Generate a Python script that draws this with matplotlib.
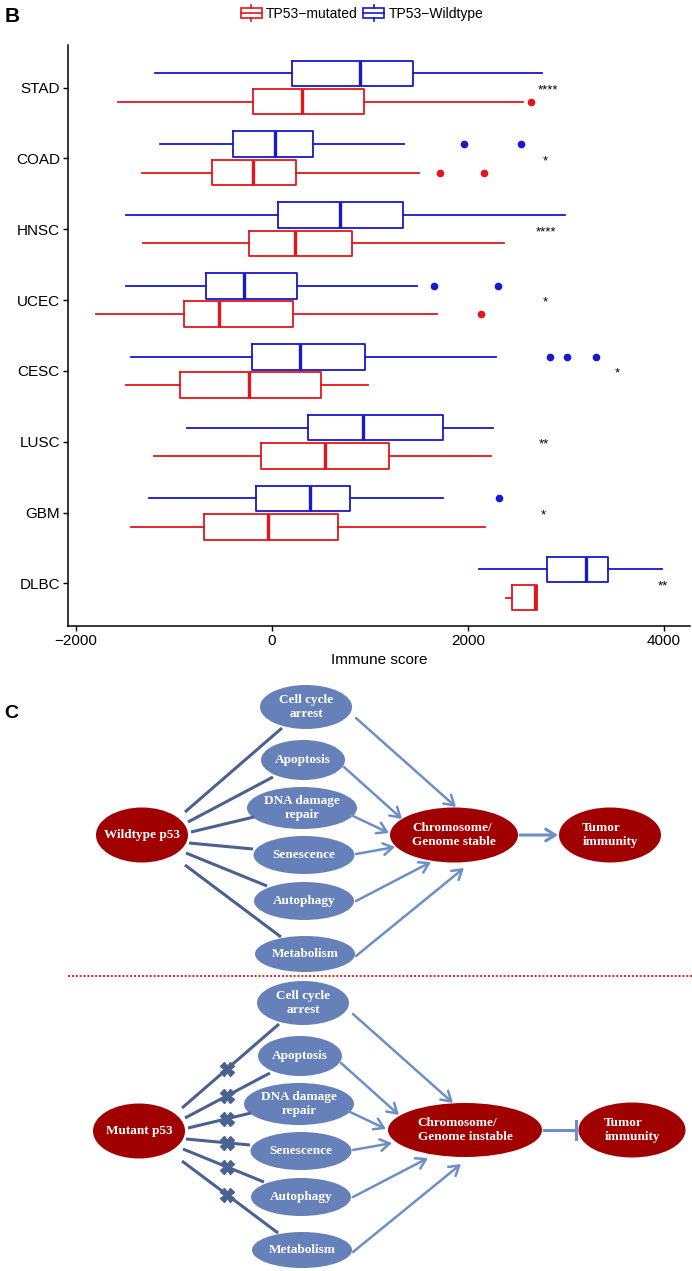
import matplotlib
matplotlib.use('Agg')
import matplotlib.pyplot as plt
from matplotlib.patches import Ellipse, Rectangle, FancyArrowPatch
from matplotlib.lines import Line2D
from matplotlib.legend_handler import HandlerBase

plt.rcParams['font.family'] = ['Liberation Sans', 'DejaVu Sans']

W, H = 692, 1271

# ---- panel B data (immune score box stats) ----
cancer_types = ['STAD', 'COAD', 'HNSC', 'UCEC', 'CESC', 'LUSC', 'GBM', 'DLBC']

wt_whislo = [-1192, -1147, -1494, -1494, -1440, -867, -1251, 2109]
wt_q1 = [199, -397, 59, -677, -208, 366, -163, 2804]
wt_med = [894, 32, 695, -284, 284, 930, 388, 3201]
wt_q3 = [1440, 415, 1332, 253, 944, 1747, 799, 3431]
wt_whishi = [2750, 1350, 2993, 1476, 2289, 2253, 1743, 3978]
wt_outliers = [[], [1960, 2537], [], [1657, 2307], [2835, 3012, 3305], [], [2321], []]

mut_whislo = [-1576, -1327, -1314, -1792, -1485, -1205, -1440, 2384]
mut_q1 = [-199, -610, -230, -903, -944, -108, -695, 2447]
mut_med = [302, -190, 230, -542, -230, 542, -45, 2682]
mut_q3 = [939, 244, 813, 212, 501, 1192, 673, 2704]
mut_whishi = [2565, 1503, 2366, 1684, 984, 2235, 2176, 2704]
mut_outliers = [[2646], [1716, 2167], [], [2131], [], [], [], []]

sig_labels = ['****', '*', '****', '*', '*', '**', '*', '**']
sig_x = [2813, 2790, 2799, 2790, 3526, 2777, 2768, 3987]

# ---- panel C labels ----
process_labels = ['Cell cycle\narrest', 'Apoptosis', 'DNA damage\nrepair',
                  'Senescence', 'Autophagy', 'Metabolism']

RED = '#E2161B'
BLUE = '#1818CC'
DARK_RED = '#A00000'
NODE_BLUE = '#6681B9'
LINE_DARK = '#4A6290'
ARROW_BLUE = '#6D8FC8'


class BoxKeyHandler(HandlerBase):
    def create_artists(self, legend, orig_handle, xdescent, ydescent,
                       width, height, fontsize, trans):
        c = orig_handle.get_color()
        x0, y0 = -xdescent, -ydescent
        cx = x0 + width / 2
        box = Rectangle((x0, y0 + 0.2 * height), width, 0.6 * height,
                        fc='white', ec=c, lw=1.2, transform=trans)
        med = Line2D([x0, x0 + width], [y0 + 0.5 * height] * 2, color=c, lw=1.2, transform=trans)
        wlo = Line2D([cx, cx], [y0, y0 + 0.2 * height], color=c, lw=1.2, transform=trans)
        whi = Line2D([cx, cx], [y0 + 0.8 * height, y0 + height], color=c, lw=1.2, transform=trans)
        return [box, med, wlo, whi]


def make_stats(lo, q1, med, q3, hi, out):
    return [dict(whislo=a, q1=b, med=c, q3=d, whishi=e, fliers=f)
            for a, b, c, d, e, f in zip(lo, q1, med, q3, hi, out)]


def draw_boxes(ax, stats, positions, color):
    ax.bxp(stats, positions=positions, widths=0.36, orientation='horizontal',
           showcaps=False, manage_ticks=False,
           boxprops=dict(color=color, lw=1.3),
           whiskerprops=dict(color=color, lw=1.3),
           medianprops=dict(color=color, lw=2.4),
           flierprops=dict(marker='o', mfc=color, mec=color, ms=4.5))


def plot_panel_b(fig):
    ax = fig.add_axes([67.6 / W, 1 - 626 / H, (690 - 67.6) / W, (626 - 45) / H])
    n = len(cancer_types)
    draw_boxes(ax, make_stats(wt_whislo, wt_q1, wt_med, wt_q3, wt_whishi, wt_outliers),
               [i - 0.2 for i in range(n)], BLUE)
    draw_boxes(ax, make_stats(mut_whislo, mut_q1, mut_med, mut_q3, mut_whishi, mut_outliers),
               [i + 0.2 for i in range(n)], RED)
    for i, (s, x) in enumerate(zip(sig_labels, sig_x)):
        ax.text(x, i + 0.04, s, ha='center', va='center', fontsize=9.5)

    ax.set_yticks(range(n))
    ax.set_yticklabels(cancer_types, fontsize=11)
    ax.set_ylim(n - 0.4, -0.6)
    ax.set_xlim(-2086, 4265)
    ax.set_xticks([-2000, 0, 2000, 4000])
    ax.tick_params(labelsize=11, length=3.5, width=1, pad=2)
    ax.set_xlabel('Immune score', fontsize=11, labelpad=4)
    for side in ['top', 'right']:
        ax.spines[side].set_visible(False)
    for side in ['left', 'bottom']:
        ax.spines[side].set_linewidth(1.1)

    handles = [Line2D([], [], color=RED), Line2D([], [], color=BLUE)]
    fig.legend(handles, ['TP53\u2212mutated', 'TP53\u2212Wildtype'], loc='center',
               bbox_to_anchor=(362 / W, 1 - 13 / H), ncol=2, frameon=False, fontsize=10,
               handlelength=1.5, handleheight=1.45, handletextpad=0.3, columnspacing=0.4,
               handler_map={Line2D: BoxKeyHandler()})
    fig.text(12 / W, 1 - 17 / H, 'B', fontsize=15, fontweight='bold', ha='center', va='center')


# layout of the upper pathway in pixel units (lower one is shifted)
mid_nodes = [(306, 707, 92, 44), (303, 760, 84, 40), (302, 808, 110, 42),
             (304, 855, 101, 38), (304, 901, 100, 38), (305, 954, 100, 36)]
src_edges = [((185, 812), (282, 728)), ((188, 822), (273, 777)), ((191, 832), (254, 817)),
             ((189, 843), (253, 849)), ((186, 853), (267, 886)), ((185, 865), (281, 937))]
hub_edges = [((356, 718), (456, 807)), ((344, 767), (402, 819)), ((351, 815), (389, 833)),
             ((356, 854), (395, 847)), ((356, 901), (431, 862)), ((356, 956), (464, 868))]

TXT = dict(color='white', fontsize=9.5, fontweight='bold', family='Liberation Serif',
           ha='center', va='center', linespacing=1.3)


def node(ax, cx, cy, w, h, color, label, align='center'):
    ax.add_patch(Ellipse((cx, cy), w, h, fc=color, ec='none'))
    ax.text(cx, cy, label, multialignment=align, **TXT)


def draw_pathway(ax, dx, dy, src_label, hub_label, hub, tumor, mutant):
    node(ax, 142 + dx, 835 + dy, 92, 55, DARK_RED, src_label)
    for (cx, cy, w, h), lab in zip(mid_nodes, process_labels):
        node(ax, cx + dx, cy + dy, w, h, NODE_BLUE, lab)
    node(ax, hub[0], hub[1], hub[2], hub[3], DARK_RED, hub_label, align='left')
    node(ax, tumor[0], tumor[1], tumor[2], tumor[3], DARK_RED, 'Tumor\nimmunity', align='left')

    for (x1, y1), (x2, y2) in src_edges:
        ax.plot([x1 + dx, x2 + dx], [y1 + dy, y2 + dy], color=LINE_DARK, lw=2.2,
                solid_capstyle='butt')
        if mutant:
            xm = 227 + dx + 3
            t = (xm - x1 - dx) / (x2 - x1)
            ym = y1 + dy + t * (y2 - y1)
            ax.plot(xm, ym, marker='X', ms=10, color=LINE_DARK, mec=LINE_DARK)
    for (x1, y1), (x2, y2) in hub_edges:
        ax.add_patch(FancyArrowPatch((x1 + dx, y1 + dy), (x2 + dx, y2 + dy),
                                     arrowstyle='->,head_length=0.45,head_width=0.28',
                                     mutation_scale=15, color=ARROW_BLUE, lw=1.8,
                                     shrinkA=0, shrinkB=0))
    hub_right = hub[0] + hub[2] / 2
    tumor_left = tumor[0] - tumor[2] / 2
    if mutant:
        ax.plot([hub_right + 2, tumor_left - 3], [hub[1], hub[1]], color=ARROW_BLUE, lw=2.2)
        ax.plot([tumor_left - 3] * 2, [hub[1] - 9, hub[1] + 9], color=ARROW_BLUE, lw=2.2)
    else:
        ax.add_patch(FancyArrowPatch((hub_right + 2, hub[1]), (tumor_left - 1, hub[1]),
                                     arrowstyle='->,head_length=0.45,head_width=0.28',
                                     mutation_scale=15, color=ARROW_BLUE, lw=2.2,
                                     shrinkA=0, shrinkB=0))


def plot_panel_c(fig):
    ax = fig.add_axes([0, 0, 1, 1], zorder=-1)
    ax.set_xlim(0, W)
    ax.set_ylim(H, 0)
    ax.axis('off')
    draw_pathway(ax, 0, 0, 'Wildtype p53', 'Chromosome/\nGenome stable',
                 (454, 835, 128, 55), (610, 835, 102, 55), False)
    ax.plot([68, 692], [976, 976], color='#E02020', lw=1.4, linestyle=(0, (1, 1)))
    draw_pathway(ax, -3, 296, 'Mutant p53', 'Chromosome/\nGenome instable',
                 (465, 1130, 154, 54), (632, 1130, 107, 55), True)
    fig.text(11 / W, 1 - 713 / H, 'C', fontsize=14, fontweight='bold', ha='center', va='center')


def script_main():
    fig = plt.figure(figsize=(W / 100, H / 100), dpi=100)
    plot_panel_b(fig)
    plot_panel_c(fig)
    fig.savefig('out.png', dpi=100)


if __name__ == '__main__':
    script_main()
